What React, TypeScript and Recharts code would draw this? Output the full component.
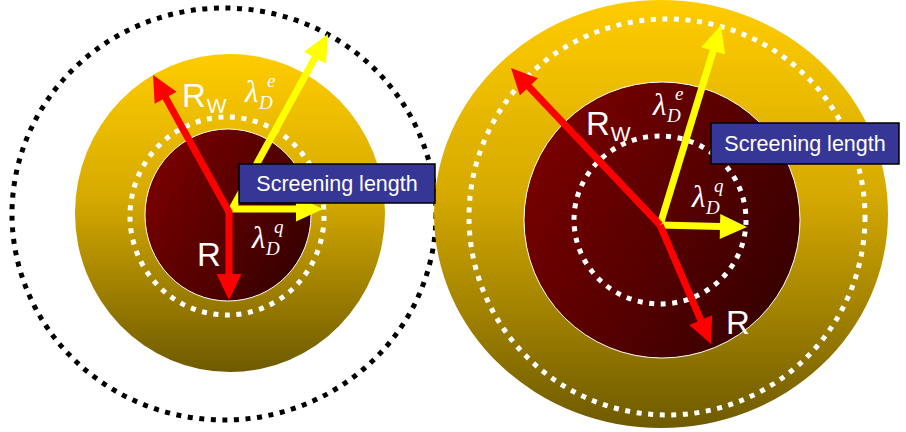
import React from "react";
import { Scatter, ScatterChart, XAxis, YAxis } from "recharts";

const W = 906;
const H = 432;
// plot units = pixels of the original sketch (y grows downwards)
const X_MAX = 906;
const Y_MAX = 432;
const SX = W / X_MAX;
const SY = H / Y_MAX;

// left sketch: small core, shell inside a big dotted sphere
// right sketch: big core, both screening lengths inside the shell
const outerSpheres = [{ x: 224, y: 214, rx: 212, ry: 206 }];
const shells = [
  { x: 230, y: 213, rx: 155, ry: 159 },
  { x: 661, y: 214, rx: 227, ry: 214 },
];
const shellDots = [
  { x: 227, y: 216, rx: 97, ry: 99 },
  { x: 667, y: 217, rx: 198, ry: 198 },
];
const cores = [
  { x: 228, y: 215, rx: 83, ry: 86 },
  { x: 662, y: 220, rx: 138, ry: 138 },
];
const coreDots = [{ x: 660, y: 220, rx: 86, ry: 84 }];

// red: R and R_W  (x,y = start, tx,ty = tip)
const radiusArrows = [
  { x: 229, y: 210, tx: 229, ty: 300 },
  { x: 229, y: 212, tx: 153, ty: 75 },
  { x: 660, y: 225, tx: 711, ty: 344 },
  { x: 660, y: 225, tx: 511, ty: 68 },
];
// yellow: lambda_D^e and lambda_D^q
const screeningArrows = [
  { x: 232, y: 209, tx: 328, ty: 34 },
  { x: 231, y: 209, tx: 323, ty: 209 },
  { x: 660, y: 225, tx: 721, ty: 25 },
  { x: 660, y: 225, tx: 747, ty: 227 },
];

const radiusLabels = [
  { x: 182, y: 107, main: "R", sub: "W" },
  { x: 197, y: 266, main: "R", sub: "" },
  { x: 586, y: 135, main: "R", sub: "W" },
  { x: 726, y: 334, main: "R", sub: "" },
];
const lambdaLabels = [
  { x: 245, y: 102, sup: "e" },
  { x: 252, y: 248, sup: "q" },
  { x: 653, y: 115, sup: "e" },
  { x: 692, y: 207, sup: "q" },
];
const boxes = [
  { x: 239, y: 164, x2: 435, y2: 203, text: "Screening length" },
  { x: 711, y: 123, x2: 899, y2: 164, text: "Screening length" },
];

const ellipse =
  (style: React.SVGProps<SVGEllipseElement>) =>
  (p: any) => (
    <ellipse
      cx={p.cx}
      cy={p.cy}
      rx={p.payload.rx * SX}
      ry={p.payload.ry * SY}
      {...style}
    />
  );

const arrow =
  (color: string, width: number, head: number, headW: number) =>
  (p: any) => {
    const x1 = p.cx;
    const y1 = p.cy;
    const x2 = x1 + (p.payload.tx - p.payload.x) * SX;
    const y2 = y1 + (p.payload.ty - p.payload.y) * SY;
    const dx = x2 - x1;
    const dy = y2 - y1;
    const len = Math.hypot(dx, dy) || 1;
    const ux = dx / len;
    const uy = dy / len;
    const bx = x2 - ux * head;
    const by = y2 - uy * head;
    const nx = (-uy * headW) / 2;
    const ny = (ux * headW) / 2;
    return (
      <g>
        <line x1={x1} y1={y1} x2={bx + ux} y2={by + uy} stroke={color} strokeWidth={width} />
        <polygon
          points={`${x2},${y2} ${bx + nx},${by + ny} ${bx - nx},${by - ny}`}
          fill={color}
        />
      </g>
    );
  };

const RadiusLabel = (p: any) => (
  <text x={p.cx} y={p.cy} fill="#fff" fontFamily="Liberation Sans, Arial" fontSize={33}>
    {p.payload.main}
    {p.payload.sub && (
      <tspan dx={1} dy={6} fontSize={21}>
        {p.payload.sub}
      </tspan>
    )}
  </text>
);

const LambdaLabel = (p: any) => (
  <g fill="#fff" fontFamily="Liberation Serif, Times New Roman" fontStyle="italic">
    <text x={p.cx} y={p.cy} fontSize={31}>
      λ
    </text>
    <text x={p.cx + 22} y={p.cy - 15} fontSize={19}>
      {p.payload.sup}
    </text>
    <text x={p.cx + 14} y={p.cy + 7} fontSize={19}>
      D
    </text>
  </g>
);

const Box = (p: any) => {
  const w = (p.payload.x2 - p.payload.x) * SX;
  const h = (p.payload.y2 - p.payload.y) * SY;
  return (
    <g>
      <rect x={p.cx} y={p.cy} width={w} height={h} fill="#363696" stroke="#000" strokeWidth={1.5} />
      <text
        x={p.cx + w / 2}
        y={p.cy + h / 2}
        textAnchor="middle"
        dominantBaseline="central"
        fill="#fff"
        fontSize={21.5}
        fontFamily="Liberation Sans, Arial"
      >
        {p.payload.text}
      </text>
    </g>
  );
};

export default function App() {
  return (
    <div style={{ position: "absolute", left: 0, top: 0, width: W, height: H, background: "#fff" }}>
      <ScatterChart width={W} height={H} margin={{ top: 0, right: 0, bottom: 0, left: 0 }}>
        <defs>
          <linearGradient id="gold" x1="0" y1="0" x2="0" y2="1">
            <stop offset="0%" stopColor="#ffcc00" />
            <stop offset="45%" stopColor="#d6aa00" />
            <stop offset="100%" stopColor="#6e5a00" />
          </linearGradient>
          <linearGradient id="core" x1="0" y1="0.2" x2="1" y2="0.8">
            <stop offset="0%" stopColor="#7c0000" />
            <stop offset="100%" stopColor="#340000" />
          </linearGradient>
        </defs>
        <XAxis type="number" dataKey="x" domain={[0, X_MAX]} allowDataOverflow hide />
        <YAxis type="number" dataKey="y" domain={[0, Y_MAX]} allowDataOverflow reversed hide />

        <Scatter
          data={outerSpheres}
          isAnimationActive={false}
          shape={ellipse({ fill: "none", stroke: "#000", strokeWidth: 5, strokeDasharray: "5 6.6" })}
        />
        <Scatter data={shells} isAnimationActive={false} shape={ellipse({ fill: "url(#gold)" })} />
        <Scatter
          data={shellDots}
          isAnimationActive={false}
          shape={ellipse({ fill: "none", stroke: "#fff", strokeWidth: 5, strokeDasharray: "5 6.6" })}
        />
        <Scatter
          data={cores}
          isAnimationActive={false}
          shape={ellipse({ fill: "url(#core)", stroke: "#fff", strokeWidth: 1 })}
        />
        <Scatter
          data={coreDots}
          isAnimationActive={false}
          shape={ellipse({ fill: "none", stroke: "#fff", strokeWidth: 5, strokeDasharray: "5 6.6" })}
        />

        <Scatter data={screeningArrows} isAnimationActive={false} shape={arrow("#ffff00", 7, 27, 25)} />
        <Scatter data={radiusArrows} isAnimationActive={false} shape={arrow("#ff0000", 7, 26, 25)} />

        <Scatter data={radiusLabels} isAnimationActive={false} shape={RadiusLabel} />
        <Scatter data={lambdaLabels} isAnimationActive={false} shape={LambdaLabel} />
        <Scatter data={boxes} isAnimationActive={false} shape={Box} />
      </ScatterChart>
    </div>
  );
}
